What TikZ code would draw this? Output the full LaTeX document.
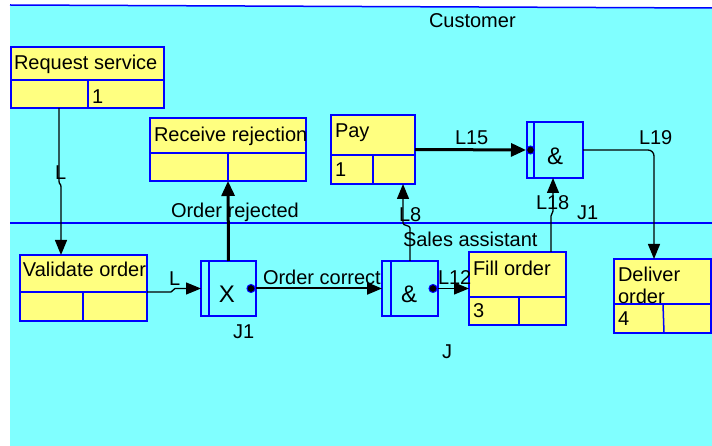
\documentclass[tikz,border=0pt]{standalone}
\usepackage{fontspec}
\setmainfont{Liberation Sans}
\usetikzlibrary{arrows.meta,calc}
\definecolor{lanecyan}{HTML}{80FFFF}
\definecolor{boxyellow}{HTML}{FFFF80}
\definecolor{edgeblue}{HTML}{0000FF}
\begin{document}
\begin{tikzpicture}[x=1pt,y=-1pt,
  lbl/.style={font=\fontsize{20}{23}\selectfont, inner sep=0pt, outer sep=0pt, anchor=base west, text=black},
  sym/.style={font=\fontsize{24}{27}\selectfont, inner sep=0pt, outer sep=0pt, anchor=base, text=black},
  actbox/.style={draw=edgeblue, fill=boxyellow, line width=1.5pt, inner sep=0pt, outer sep=0pt, anchor=north west},
  junc/.style={draw=edgeblue, fill=lanecyan, line width=1.5pt, inner sep=0pt, outer sep=0pt, anchor=north west},
  divline/.style={draw=edgeblue, line width=1.5pt},
  laneline/.style={draw=edgeblue, line width=1.5pt},
  thinlink/.style={draw=black, line width=1.3pt, -{Triangle[length=15pt,width=12pt]}},
  midlink/.style={draw=black, line width=2pt, -{Triangle[length=15pt,width=12pt]}},
  thicklink/.style={draw=black, line width=3pt, -{Triangle[length=15pt,width=13pt]}},
  dotn/.style={circle, fill=black, draw=edgeblue, line width=1pt, inner sep=0pt, minimum size=8pt}
]
\useasboundingbox (0,0) rectangle (712,446);
\fill[white] (0,0) rectangle (712,446);
\fill[lanecyan] (10,5) -- (712,8) -- (712,446) -- (10,446) -- cycle;
\draw[laneline] (10,5) -- (712,8);
\draw[laneline] (10,223) -- (712,223);

% lane titles
\node[lbl] (custlbl) at (429,28) {Customer};
\node[lbl] (saleslbl) at (403,247) {Sales assistant};
\node[lbl] (jlbl) at (442,358) {J};

% activity boxes
\node[actbox, minimum width=153pt, minimum height=61pt] (rs) at (11,47) {};
\draw[divline] (11,80) -- (164,80);
\draw[divline] (88,80) -- (88,108);
\node[lbl] (rstext) at (14,70) {Request service};
\node[lbl] (rsnum) at (92,104) {1};

\node[actbox, minimum width=156pt, minimum height=63pt] (rr) at (150,118) {};
\draw[divline] (150,153) -- (306,153);
\draw[divline] (228,153) -- (228,181);
\node[lbl] (rrtext) at (154,142) {Receive rejection};

\node[actbox, minimum width=84pt, minimum height=69pt] (pay) at (331,115) {};
\draw[divline] (331,155) -- (415,155);
\draw[divline] (373,155) -- (373,184);
\node[lbl] (paytext) at (335,138) {Pay};
\node[lbl] (paynum) at (335,177) {1};

\node[actbox, minimum width=127pt, minimum height=66pt] (vo) at (20,255) {};
\draw[divline] (20,292) -- (147,292);
\draw[divline] (83,292) -- (83,321);
\node[lbl] (votext) at (23,277) {Validate order};

\node[actbox, minimum width=97pt, minimum height=73pt] (fo) at (469,252) {};
\draw[divline] (469,297) -- (566,297);
\draw[divline] (519,297) -- (519,325);
\node[lbl] (fotext) at (473,276) {Fill order};
\node[lbl] (fonum) at (473,317) {3};

\node[actbox, minimum width=97pt, minimum height=74pt] (do) at (614,259) {};
\draw[divline] (614,304) -- (711,304);
\draw[divline] (663,304) -- (664,333);
\node[lbl] (dotext1) at (618,282) {Deliver};
\node[lbl] (dotext2) at (618,304) {order};
\node[lbl] (donum) at (618,326) {4};

% junctions
\node[junc, minimum width=55pt, minimum height=55pt] (j1) at (201,261) {};
\draw[divline] ([xshift=8pt]j1.north west) -- ([xshift=8pt]j1.south west);
\node[sym] (j1sym) at (227,303) {X};
\node[lbl] (j1lbl) at (233,338) {J1};

\node[junc, minimum width=56pt, minimum height=55pt] (m) at (382,261) {};
\draw[divline] ([xshift=9pt]m.north west) -- ([xshift=9pt]m.south west);
\node[sym] (msym) at (409,303) {\&};

\node[junc, minimum width=56pt, minimum height=56pt] (t) at (527,122) {};
\draw[divline] ([xshift=7pt]t.north west) -- ([xshift=7pt]t.south west);
\node[sym] (tsym) at (555,165) {\&};
\node[lbl] (tlbl) at (577,220) {J1};

% dots
\node[dotn] (j1d) at ([xshift=-5pt]j1.east) {};
\node[dotn] (md) at ([xshift=-5pt]m.east) {};
\node[dotn] (td) at ([xshift=3.5pt]t.west) {};

% helper coordinates
\coordinate (w1) at (0,181);
\coordinate (w2) at (0,187);
\coordinate (w3) at (0,223);
\coordinate (w4) at (0,216);
\coordinate (w5) at (0,211);
\coordinate (a1) at ([xshift=48pt]rs.south west);
\coordinate (a2) at ([xshift=41pt]vo.north west);
\coordinate (b1) at ([yshift=-4pt]vo.east);
\coordinate (p1) at ([xshift=30pt]pay.south);
\coordinate (f1) at ([xshift=82pt]fo.north west);
\coordinate (t1) at ([xshift=-2pt]t.south);
\coordinate (d1) at ([xshift=40pt]do.north west);

% connectors
\draw[thinlink] (a1) -- (a1 |- w1) .. controls +(0,4) and +(0,-4) .. (a2 |- w2) -- (a2);
\node[lbl] (l1) at (55,180) {L};

\draw[thinlink] (b1) -- ++(24,0) .. controls +(2,0) and +(-2,0) .. ++(4,-3.5) -- (j1.west);
\node[lbl] (l2) at (169,286) {L};

\draw[thicklink] (j1.north) -- (rr.south);
\node[lbl] (rejlbl) at (171,218) {Order rejected};

\draw[midlink] (j1d) -- (m.west);
\node[lbl] (corlbl) at (263,284) {Order correct};

\draw[thinlink] (m.north) -- ++(0,-33) .. controls +(0,-3) and +(0,3) .. (p1 |- w3) -- (p1);
\node[lbl] (l8) at (399,222) {L8};

\draw[thinlink] (md) -- (fo.west);
\node[lbl] (l12) at (438,285) {L12};

\draw[thinlink] (f1) -- (f1 |- w4) .. controls +(0,-3) and +(0,3) .. (t1 |- w5) -- (t1);
\node[lbl] (l18) at (536,210) {L18};

\draw[thicklink] (pay.east) -- (td);
\node[lbl] (l15) at (455,145) {L15};

\draw[thinlink, rounded corners=6pt] (t.east) -| (d1);
\node[lbl] (l19) at (639,145) {L19};
\end{tikzpicture}
\end{document}
